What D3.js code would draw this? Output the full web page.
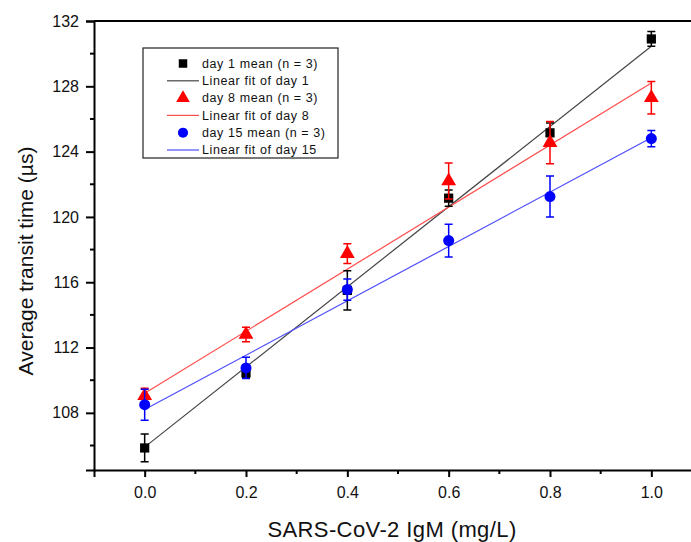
<!DOCTYPE html>
<html>
<head>
<meta charset="utf-8">
<script src="https://cdn.jsdelivr.net/npm/d3@7"></script>
<style>
  body { margin: 0; background: #fff; }
  svg { display: block; font-family: "Liberation Sans", Arial, sans-serif; }
</style>
</head>
<body>
<div id="chart"></div>
<script>
// concentrations (mg/L)
const conc = [0.0, 0.2, 0.4, 0.6, 0.8, 1.0];

// mean transit time (µs) and error (sd) per day
const day1 = [105.85, 110.45, 115.5, 121.15, 125.15, 130.9];
const day1Err = [0.85, 0.3, 1.2, 0.5, 0.6, 0.45];
const day8 = [109.05, 112.8, 117.75, 122.2, 124.55, 127.3];
const day8Err = [0.45, 0.45, 0.6, 1.1, 1.3, 1.0];
const day15 = [108.5, 110.75, 115.55, 118.55, 121.25, 124.8];
const day15Err = [0.95, 0.65, 0.65, 1.0, 1.25, 0.5];

// linear fit end points: value at x = 0 and x = 1
const fit1 = [105.9, 130.45];
const fit8 = [109.2, 128.2];
const fit15 = [108.2, 124.85];

const xTicks = [0.0, 0.2, 0.4, 0.6, 0.8, 1.0];
const yTicks = [108, 112, 116, 120, 124, 128, 132];

const width = 691, height = 542;
const svg = d3.select("#chart").append("svg")
    .attr("width", width)
    .attr("height", height);

const x = d3.scaleLinear().domain([-0.1, 1.1]).range([94, 702]);
const y = d3.scaleLinear().domain([104.5, 132]).range([470, 21]);

// frame
svg.append("line")
    .attr("x1", x(-0.1)).attr("x2", x(1.1))
    .attr("y1", y(132)).attr("y2", y(132))
    .attr("stroke", "#000").attr("stroke-width", 2);

// x axis
const xMinor = d3.range(0, 11).map(i => -0.1 + i * 0.2).filter(v => v > -0.1);
const gx = svg.append("g").attr("transform", `translate(0,${y(104.5)})`);
gx.call(d3.axisBottom(x).tickValues(xTicks).tickFormat(d3.format(".1f"))
    .tickSize(7).tickPadding(10));
gx.append("g").selectAll("line")
    .data(xMinor)
    .enter().append("line")
      .attr("x1", d => x(d)).attr("x2", d => x(d))
      .attr("y1", 0).attr("y2", 4)
      .attr("stroke", "#000").attr("stroke-width", 2);

// y axis
const yMinor = d3.range(106, 132, 4);
const gy = svg.append("g").attr("transform", `translate(${x(-0.1)},0)`);
gy.call(d3.axisLeft(y).tickValues(yTicks).tickSize(8).tickPadding(7));
gy.append("g").selectAll("line")
    .data(yMinor)
    .enter().append("line")
      .attr("x1", 0).attr("x2", -4)
      .attr("y1", d => y(d)).attr("y2", d => y(d))
      .attr("stroke", "#000").attr("stroke-width", 2);

[gx, gy].forEach(g => {
  g.select(".domain").attr("stroke-width", 2);
  g.selectAll(".tick line").attr("stroke-width", 2);
  g.selectAll(".tick text")
      .attr("font-size", 16)
      .attr("font-family", "Liberation Sans, Arial, sans-serif")
      .attr("fill", "#111");
});

// axis titles
svg.append("text")
    .attr("x", 392).attr("y", 537)
    .attr("text-anchor", "middle")
    .attr("font-size", 22)
    .attr("letter-spacing", 0.4)
    .attr("fill", "#111")
    .text("SARS-CoV-2 IgM (mg/L)");

svg.append("text")
    .attr("transform", "translate(33,261) rotate(-90)")
    .attr("text-anchor", "middle")
    .attr("font-size", 21)
    .attr("fill", "#111")
    .text("Average transit time (\u00b5s)");

const series = [
  { name: "day 1", vals: day1, err: day1Err, fit: fit1, color: "#000", lineColor: "#444", shape: d3.symbolSquare, size: 85 },
  { name: "day 8", vals: day8, err: day8Err, fit: fit8, color: "#ff0000", lineColor: "#ff4d4d", shape: d3.symbolTriangle, size: 95 },
  { name: "day 15", vals: day15, err: day15Err, fit: fit15, color: "#0000ff", lineColor: "#4d4dff", shape: d3.symbolCircle, size: 95 }
];

// fit lines
svg.append("g").selectAll("line")
    .data(series)
    .enter().append("line")
      .attr("x1", x(0)).attr("x2", x(1))
      .attr("y1", d => y(d.fit[0])).attr("y2", d => y(d.fit[1]))
      .attr("stroke", d => d.lineColor)
      .attr("stroke-width", 1.2);

// error bars and markers
series.forEach(s => {
  const pts = conc.map((c, i) => ({ c: c, v: s.vals[i], e: s.err[i] }));
  const g = svg.append("g")
      .attr("stroke", s.color)
      .attr("stroke-width", 1.5)
      .attr("fill", "none");
  g.selectAll("path.err")
      .data(pts)
      .enter().append("path")
        .attr("class", "err")
        .attr("d", d => {
          const cx = x(d.c), y0 = y(d.v - d.e), y1 = y(d.v + d.e);
          return `M${cx - 4},${y1}H${cx + 4}M${cx},${y1}V${y0}M${cx - 4},${y0}H${cx + 4}`;
        });
  svg.append("g").selectAll("path")
      .data(pts)
      .enter().append("path")
        .attr("d", d3.symbol().type(s.shape).size(s.size))
        .attr("transform", d => `translate(${x(d.c)},${y(d.v)})`)
        .attr("fill", s.color);
});

// legend
const legend = svg.append("g").attr("transform", "translate(143,48)");
legend.append("rect")
    .attr("width", 195).attr("height", 110)
    .attr("fill", "#fff")
    .attr("stroke", "#222")
    .attr("stroke-width", 1.2);

const rows = [];
series.forEach(s => {
  rows.push({ type: "marker", s: s, label: `${s.name} mean (n = 3)` });
  rows.push({ type: "line", s: s, label: `Linear fit of ${s.name}` });
});

const row = legend.selectAll("g.row")
    .data(rows)
    .enter().append("g")
      .attr("class", "row")
      .attr("transform", (d, i) => `translate(0,${15.5 + i * 17.3})`);

row.filter(d => d.type === "marker").append("path")
    .attr("d", d => d3.symbol().type(d.s.shape).size(d.s.size * 0.85)())
    .attr("transform", "translate(40,0)")
    .attr("fill", d => d.s.color);

row.filter(d => d.type === "line").append("line")
    .attr("x1", 24).attr("x2", 56)
    .attr("stroke", d => d.s.lineColor)
    .attr("stroke-width", 1.2);

row.append("text")
    .attr("x", 59)
    .attr("dy", "0.35em")
    .attr("font-size", 12.5)
    .attr("letter-spacing", 0.6)
    .attr("fill", "#111")
    .text(d => d.label);
</script>
</body>
</html>
